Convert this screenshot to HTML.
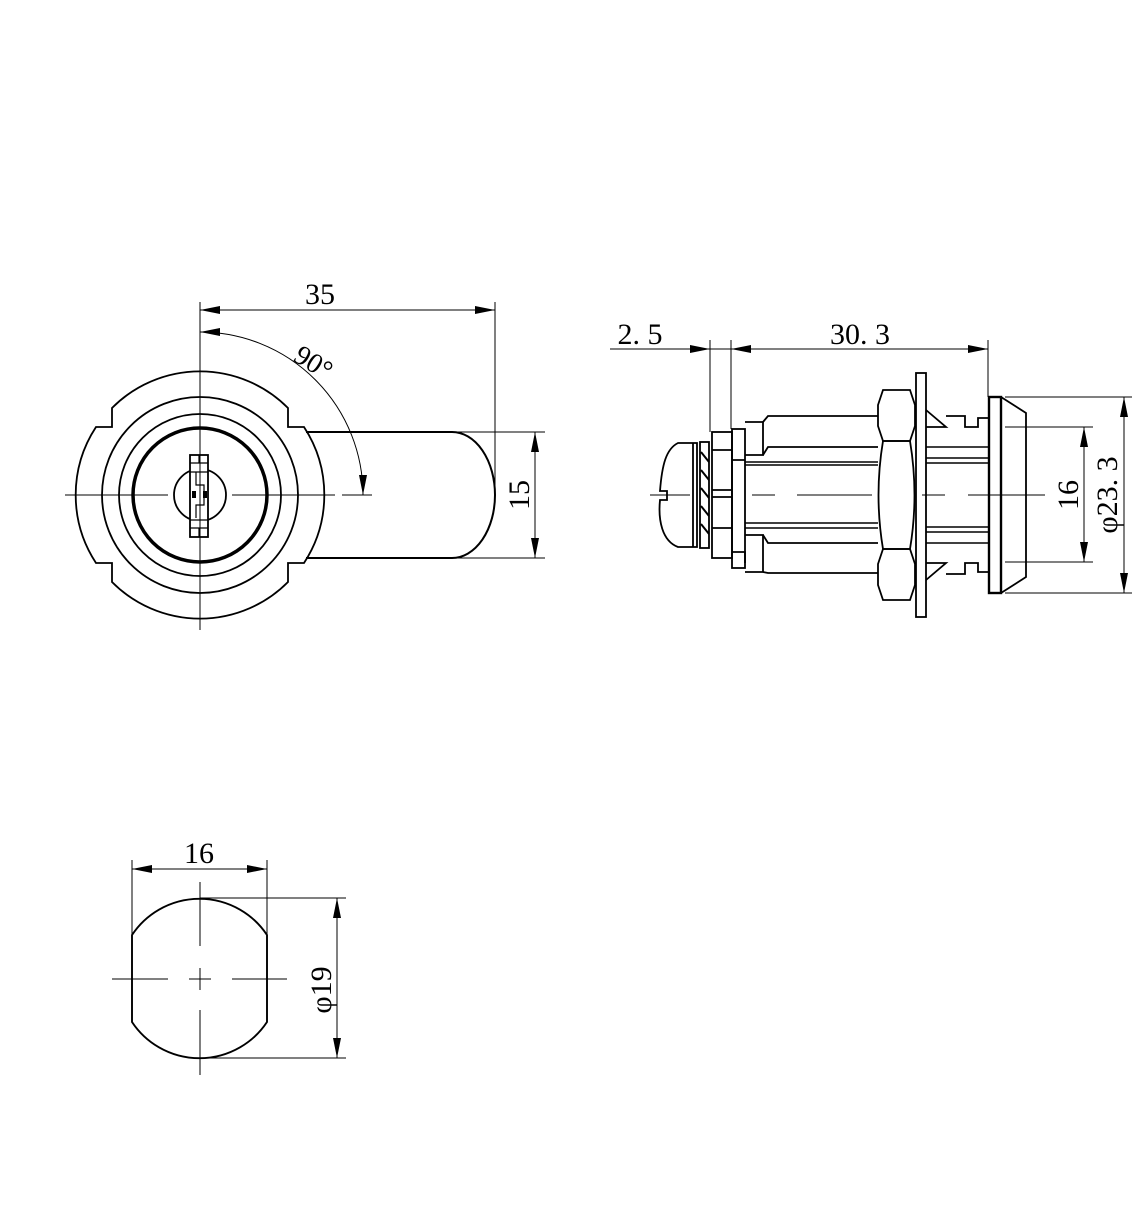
<!DOCTYPE html>
<html><head><meta charset="utf-8"><style>
html,body{margin:0;padding:0;background:#fff;}
svg{display:block;}
text{font-family:"Liberation Serif",serif;fill:#000;}
</style></head><body>
<svg width="1139" height="1229" viewBox="0 0 1139 1229" xmlns="http://www.w3.org/2000/svg">
<defs>
<marker id="a" viewBox="0 0 20 8" refX="20" refY="4" markerWidth="20" markerHeight="8" markerUnits="userSpaceOnUse" orient="auto-start-reverse"><path d="M0,0 L20,4 L0,8 z" fill="#000"/></marker>
</defs>
<g fill="none" stroke="#000" stroke-width="1.8">
<path d="M112,408 A124,124 0 0 1 288,408 L288,427 L304,427 A124,124 0 0 1 304,563 L288,563 L288,582 A124,124 0 0 1 112,582 L112,563 L96,563 A124,124 0 0 1 96,427 L112,427 Z"/>
<circle cx="200" cy="495" r="98"/>
<circle cx="200" cy="495" r="81"/>
<circle cx="200" cy="495" r="67" stroke-width="3.5"/>
<circle cx="200" cy="495" r="26"/>
<rect x="190" y="455" width="18" height="82" fill="#fff"/>
<path d="M190,463 H208 M190,472 H208 M190,520 H208 M190,528 H208 M199,455 V463 M199,528 V537 M196,472 V485 H204 V505 H196 V518" stroke-width="1.2"/>
<rect x="192" y="491" width="4" height="7" fill="#000" stroke="none"/>
<rect x="203" y="491" width="4" height="7" fill="#000" stroke="none"/>
<path d="M306,432 H452 A43,63 0 0 1 452,558 H306" stroke-width="2"/>
</g>
<g fill="none" stroke="#000" stroke-width="1">
<line x1="200" y1="302" x2="200" y2="630"/>
<line x1="65" y1="495" x2="168" y2="495"/>
<line x1="232" y1="495" x2="335" y2="495"/>
<line x1="342" y1="495" x2="372" y2="495"/>
<line x1="495" y1="302" x2="495" y2="495"/>
<line x1="200" y1="310" x2="495" y2="310" marker-start="url(#a)" marker-end="url(#a)"/>
<path d="M200,332 A163,163 0 0 1 363,495" marker-start="url(#a)" marker-end="url(#a)"/>
<line x1="455" y1="432" x2="545" y2="432"/>
<line x1="455" y1="558" x2="545" y2="558"/>
<line x1="535" y1="432" x2="535" y2="558" marker-start="url(#a)" marker-end="url(#a)"/>
</g>
<text x="320" y="304" font-size="30" text-anchor="middle">35</text>
<text x="0" y="0" font-size="28" transform="translate(292,360) rotate(32)">90°</text>
<text x="0" y="0" font-size="30" text-anchor="middle" transform="translate(529,495) rotate(-90)">15</text>

<g fill="none" stroke="#000" stroke-width="1.8">
<path d="M678,443 H697 V547 H678 C662,541 658,520 660,500 L667,500 V491 L660,491 C662,465 666,449 678,443 Z"/>
<line x1="693" y1="443" x2="693" y2="547"/>
<rect x="700" y="442" width="9" height="106"/>
<path d="M701,452 L709,462 M701,470 L709,480 M701,488 L709,498 M701,506 L709,516 M701,524 L709,534" stroke-width="2"/>
<rect x="712" y="432" width="20" height="126"/>
<path d="M712,450 H732 M712,490 H732 M712,497 H732 M712,528 H732"/>
<rect x="732" y="429" width="13" height="139"/>
<path d="M732,460 H745 M732,552 H745 V563"/>
<path d="M745,422 H763 V455 H745 M745,535 H763 V572 H745"/>
<path d="M763,422 L768,416 H878 M763,455 L768,447 H878 M763,535 L768,543 H878 M763,572 L768,573 H878"/>
<path d="M745,462 H878 M745,465 H878 M745,523 H878 M745,528 H878" stroke-width="1.4"/>
<path d="M883,390 H910 L915,405 V426 L910,441 H883 L878,426 V405 Z"/>
<path d="M883,441 H910 Q919,495 910,549 H883 Q874,495 883,441 Z"/>
<path d="M883,549 H910 L915,564 V585 L910,600 H883 L878,585 V564 Z"/>
<rect x="916" y="373" width="10" height="244"/>
<path d="M926,410 L946,427 H926 M926,580 L946,563 H926"/>
<path d="M946,416 H965 V427 H978 V418 H989 M946,574 H965 V563 H978 V572 H989"/>
<path d="M926,447 H989 M926,458 H989 M926,463 H989 M926,527 H989 M926,532 H989 M926,543 H989" stroke-width="1.4"/>
<rect x="989" y="397" width="12" height="196" stroke-width="2.4"/>
<path d="M1001,397 L1026,413 V577 L1001,593"/>
</g>
<g fill="none" stroke="#000" stroke-width="1">
<line x1="650" y1="495" x2="690" y2="495"/>
<line x1="752" y1="495" x2="775" y2="495"/>
<line x1="797" y1="495" x2="872" y2="495"/>
<line x1="922" y1="495" x2="945" y2="495"/>
<line x1="968" y1="495" x2="1045" y2="495"/>
<line x1="710" y1="340" x2="710" y2="432"/>
<line x1="731" y1="340" x2="731" y2="429"/>
<line x1="988" y1="340" x2="988" y2="397"/>
<line x1="610" y1="349" x2="710" y2="349" marker-end="url(#a)"/>
<line x1="731" y1="349" x2="988" y2="349" marker-start="url(#a)" marker-end="url(#a)"/>
<line x1="710" y1="349" x2="731" y2="349"/>
<line x1="1005" y1="397" x2="1132" y2="397"/>
<line x1="1005" y1="593" x2="1132" y2="593"/>
<line x1="1005" y1="427" x2="1093" y2="427"/>
<line x1="1005" y1="562" x2="1093" y2="562"/>
<line x1="1084" y1="427" x2="1084" y2="562" marker-start="url(#a)" marker-end="url(#a)"/>
<line x1="1124" y1="397" x2="1124" y2="593" marker-start="url(#a)" marker-end="url(#a)"/>
</g>
<text x="640" y="344" font-size="30" text-anchor="middle">2. 5</text>
<text x="860" y="344" font-size="30" text-anchor="middle">30. 3</text>
<text x="0" y="0" font-size="30" text-anchor="middle" transform="translate(1078,495) rotate(-90)">16</text>
<text x="0" y="0" font-size="30" text-anchor="middle" transform="translate(1117,495) rotate(-90)">φ23. 3</text>

<g fill="none" stroke="#000" stroke-width="1.9">
<path d="M132,935 A81,81 0 0 1 267,935 V1022 A81,81 0 0 1 132,1022 Z"/>
</g>
<g fill="none" stroke="#000" stroke-width="1">
<line x1="200" y1="882" x2="200" y2="946"/>
<line x1="200" y1="968" x2="200" y2="990"/>
<line x1="200" y1="1010" x2="200" y2="1075"/>
<line x1="112" y1="979" x2="168" y2="979"/>
<line x1="189" y1="979" x2="211" y2="979"/>
<line x1="232" y1="979" x2="287" y2="979"/>
<line x1="132" y1="860" x2="132" y2="935"/>
<line x1="267" y1="860" x2="267" y2="935"/>
<line x1="132" y1="869" x2="267" y2="869" marker-start="url(#a)" marker-end="url(#a)"/>
<line x1="200" y1="898" x2="346" y2="898"/>
<line x1="200" y1="1058" x2="346" y2="1058"/>
<line x1="337" y1="898" x2="337" y2="1058" marker-start="url(#a)" marker-end="url(#a)"/>
</g>
<text x="199" y="863" font-size="30" text-anchor="middle">16</text>
<text x="0" y="0" font-size="30" text-anchor="middle" transform="translate(331,990) rotate(-90)">φ19</text>
</svg>
</body></html>
